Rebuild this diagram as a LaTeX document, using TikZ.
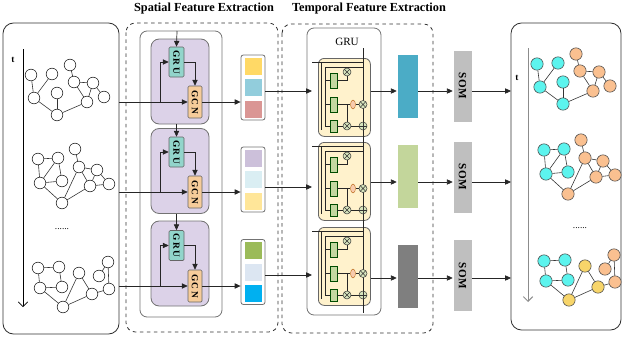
\documentclass[tikz,border=0pt]{standalone}
\usepackage{fontspec}
\setmainfont{Liberation Serif}
\usetikzlibrary{arrows.meta,shapes.geometric}
\definecolor{cyanN}{HTML}{5CF4EE}
\definecolor{orgN}{HTML}{FAC090}
\definecolor{yelN}{HTML}{F7D56A}
\definecolor{purp}{HTML}{DCD2E8}
\definecolor{gruC}{HTML}{92D5CB}
\definecolor{gcnC}{HTML}{F6CC9A}
\definecolor{cellC}{HTML}{FFF2CC}
\definecolor{gboxC}{HTML}{C4D7A0}
\definecolor{gateC}{HTML}{D7E4BD}
\definecolor{ovalC}{HTML}{F8CBAD}
\definecolor{somC}{HTML}{BFBFBF}
\definecolor{barA}{HTML}{4BACC6}
\definecolor{barB}{HTML}{C3D69B}
\definecolor{barC}{HTML}{7F7F7F}
\definecolor{vA}{HTML}{FFD966}
\definecolor{vB}{HTML}{92CDDC}
\definecolor{vC}{HTML}{DA9694}
\definecolor{vD}{HTML}{CCC0DA}
\definecolor{vE}{HTML}{DAEEF3}
\definecolor{vF}{HTML}{FFE699}
\definecolor{vG}{HTML}{9BBB59}
\definecolor{vH}{HTML}{DCE6F2}
\definecolor{vI}{HTML}{00B0F0}
\newcommand\px{0.03cm}
\tikzset{
 gn/.style={circle,draw=black!85,fill=white,line width=0.5pt,inner sep=0pt,minimum size=0.35cm},
 gnr/.style={gn,minimum size=0.37cm,draw=black!70},
 ge/.style={draw=black!80,line width=0.5pt},
 arr/.style={-{Triangle[length=5pt,width=4.5pt]},line width=0.6pt,draw=black!85},
 panel/.style={draw=black!80,rounded corners=9pt,line width=0.7pt},
 dpanel/.style={draw=black!80,dashed,rounded corners=8pt,line width=0.7pt},
 innerbox/.style={draw=black!55,rounded corners=6pt,line width=0.7pt},
 purpbox/.style={draw=black!55,fill=purp,rounded corners=7pt,line width=0.7pt,minimum width=58*\px,minimum height=85*\px,inner sep=0pt},
 grubox/.style={draw=black!60,fill=gruC,rounded corners=1pt,line width=0.5pt,minimum height=30*\px,minimum width=15*\px,inner sep=0pt,font=\bfseries\fontsize{8}{9}\selectfont},
 gcnbox/.style={draw=black!60,fill=gcnC,rounded corners=1pt,line width=0.5pt,minimum height=32*\px,minimum width=14*\px,inner sep=0pt,font=\bfseries\fontsize{8}{9}\selectfont},
 vecbox/.style={draw=black!55,fill=white,rounded corners=2pt,line width=0.7pt,minimum width=24*\px,minimum height=65*\px,inner sep=0pt},
 sq/.style={fill=#1,draw=white,line width=0.4pt,minimum width=18*\px,minimum height=18*\px,inner sep=0pt},
 cellbox/.style={draw=black!60,fill=cellC,rounded corners=5pt,line width=0.7pt,minimum width=52*\px,minimum height=78*\px,inner sep=0pt},
 cl/.style={draw=black!85,line width=0.4pt},
 gb/.style={draw=green!30!black,fill=gboxC,line width=0.4pt,minimum width=7*\px,inner sep=0pt},
 gate/.style={circle,draw=black!80,fill=gateC,line width=0.4pt,inner sep=0pt,minimum size=8*\px},
 otimes/.style={gate,path picture={\draw[black!80,line width=0.4pt] (path picture bounding box.north west) -- (path picture bounding box.south east) (path picture bounding box.north east) -- (path picture bounding box.south west);}},
 oplus/.style={gate,path picture={\draw[black!80,line width=0.4pt] (path picture bounding box.north) -- (path picture bounding box.south) (path picture bounding box.east) -- (path picture bounding box.west);}},
 ovalN/.style={ellipse,draw=orange!70!black,fill=ovalC,line width=0.3pt,inner sep=0pt,minimum width=5*\px,minimum height=9*\px},
 bar/.style={fill=#1,draw=white,line width=0.4pt,minimum width=21*\px,minimum height=64*\px,inner sep=0pt},
 som/.style={fill=somC,draw=white,minimum height=72*\px,minimum width=19*\px,inner sep=0pt,font=\bfseries\fontsize{9.5}{10}\selectfont},
 title/.style={font=\bfseries\fontsize{10.5}{12}\selectfont},
 tlabel/.style={font=\fontsize{8}{9}\selectfont\bfseries},
}
\newcommand\grucell[2]{%
 \node[cellbox,anchor=north west] (#1) at (318,#2) {};
 \begin{scope}[shift={(318,#2)}]
  \draw[cl] (-6,4) -- (45,4);
  \draw[cl] (3,4) -- (3,72);
  \draw[cl] (7,9) -- (45,9);
  \draw[cl] (7,9) -- (7,68);
  \draw[cl] (45,-8) -- (45,86);
  \node[gb,minimum height=15*\px] (#1b1) at (15.5,22.5) {};
  \node[gb,minimum height=15*\px] (#1b2) at (15.5,46.5) {};
  \node[gb,minimum height=12*\px] (#1b3) at (15.5,68) {};
  \draw[cl] (7,22.5) -- (#1b1.west);
  \draw[cl] (7,46.5) -- (#1b2.west);
  \draw[cl] (7,68) -- (#1b3.west);
  \node[otimes] (#1g1) at (29,14) {};
  \draw[cl] (#1b1.east) -| (#1g1.south);
  \draw[cl] (#1g1.north) -- (29,9);
  \node[ovalN] (#1o) at (35,46.5) {};
  \node[otimes] (#1g2) at (45,46.5) {};
  \node[otimes] (#1g3) at (29,68) {};
  \node[oplus] (#1g4) at (45,68) {};
  \draw[cl] (#1b2.east) -- (#1o) -- (#1g2);
  \draw[cl] (29,46.5) -- (#1g3.north);
  \draw[cl] (#1b3.east) -- (#1g3) -- (#1g4);
 \end{scope}}
\begin{document}
\begin{tikzpicture}[x=0.03cm,y=-0.03cm]
\useasboundingbox (0,0) rectangle (623,337);
% titles
\node[title] (t1) at (204,9) {Spatial Feature Extraction};
\node[title] (t2) at (369,9) {Temporal Feature Extraction};
% panels
\draw[panel] (3,23) rectangle (119,334);
\draw[dpanel] (126,23) rectangle (278,332);
\draw[dpanel] (282,24) rectangle (433,333);
\draw[panel] (511,23) rectangle (621,330);
% time arrows
\node[tlabel] (tl) at (13,60) {t};
\coordinate (ta1) at (23,49); \coordinate (ta2) at (23,307);
\draw[-{Straight Barb[length=4pt]},line width=0.6pt] (ta1) -- (ta2);
\node[tlabel] (tr) at (517,78) {t};
\coordinate (tb1) at (528,48); \coordinate (tb2) at (528,302);
\draw[-{Straight Barb[length=4pt]},line width=0.8pt,draw=black!45] (tb1) -- (tb2);
% left graphs
\foreach \n/\x/\y in {1/31/75,2/52/74,3/70/65,4/74/82,5/93/83,6/57/93,7/34/98,8/104/97,9/87/102,10/57/115}
  \node[gn] (La\n) at (\x,\y) {};
\foreach \a/\b in {1/7,2/7,6/10,7/10,10/9,3/4,4/5,4/9,5/9,5/8}
  \draw[ge] (La\a) -- (La\b);
\foreach \n/\x/\y in {1/38/159,2/58/158,3/75/149,4/79/167,5/97/170,6/62/181,7/40/183,8/90/186,9/109/184,10/62/203}
  \node[gn] (Lb\n) at (\x,\y) {};
\foreach \a/\b in {1/2,1/7,2/7,2/6,7/6,7/10,10/4,10/8,3/4,4/5,4/8,5/8,8/9,5/9}
  \draw[ge] (Lb\a) -- (Lb\b);
\foreach \n/\x/\y in {1/38/268,2/59/267,3/79/273,4/108/262,5/99/276,6/40/288,7/62/287,8/92/294,9/109/289,10/63/307}
  \node[gn] (Lc\n) at (\x,\y) {};
\foreach \a/\b in {1/2,1/6,2/7,6/7,6/10,10/3,3/8,10/8,8/9,5/4,4/9}
  \draw[ge] (Lc\a) -- (Lc\b);
\node[font=\fontsize{8}{9}\selectfont] (ld) at (62,229) {......};
% right graphs
\foreach \n/\x/\y/\c in {1/31/75/cyanN,2/52/74/cyanN,3/70/65/orgN,4/74/82/orgN,5/93/83/orgN,6/57/93/cyanN,7/34/98/cyanN,8/104/97/orgN,9/87/102/orgN,10/57/115/cyanN}
  \node[gnr,fill=\c] (Ra\n) at (\x+506,\y-11) {};
\foreach \a/\b in {1/7,2/7,6/10,7/10,10/9,3/4,4/5,4/9,5/9,5/8}
  \draw[ge] (Ra\a) -- (Ra\b);
\foreach \n/\x/\y/\c in {1/38/159/cyanN,2/58/158/cyanN,3/75/149/orgN,4/79/167/orgN,5/97/170/orgN,6/62/181/cyanN,7/40/183/cyanN,8/90/186/orgN,9/109/184/orgN,10/62/203/orgN}
  \node[gnr,fill=\c] (Rb\n) at (\x+506,\y-9) {};
\foreach \a/\b in {1/2,1/7,2/7,2/6,7/6,7/10,10/4,10/8,3/4,4/5,4/8,5/8,8/9,5/9}
  \draw[ge] (Rb\a) -- (Rb\b);
\foreach \n/\x/\y/\c in {1/38/268/cyanN,2/59/267/cyanN,3/79/273/yelN,4/108/262/orgN,5/99/276/orgN,6/40/288/cyanN,7/62/287/cyanN,8/92/294/yelN,9/109/289/orgN,10/63/307/yelN}
  \node[gnr,fill=\c] (Rc\n) at (\x+506,\y-7) {};
\foreach \a/\b in {1/2,1/6,2/7,6/7,6/10,10/3,3/8,10/8,8/9,5/4,4/9}
  \draw[ge] (Rc\a) -- (Rc\b);
\node[font=\fontsize{8}{9}\selectfont] (rd) at (580,228) {......};
% spatial section
\draw[innerbox] (140,31) rectangle (222,317);
\coordinate (top) at (177,31);
\node[purpbox] (p1) at (180,81.5) {};
\node[purpbox] (p2) at (180,171) {};
\node[purpbox] (p3) at (180,263.5) {};
\node[grubox] (r1) at (176.5,62) {\rotatebox{-90}{G\,R\,U}};
\node[grubox] (r2) at (176.5,152) {\rotatebox{-90}{G\,R\,U}};
\node[grubox] (r3) at (176.5,245.5) {\rotatebox{-90}{G\,R\,U}};
\node[gcnbox] (n1) at (195,102) {\rotatebox{-90}{G\,C\,N}};
\node[gcnbox] (n2) at (195,192) {\rotatebox{-90}{G\,C\,N}};
\node[gcnbox] (n3) at (195,286) {\rotatebox{-90}{G\,C\,N}};
\draw[arr] (top) -- (r1.north);
\draw[arr] (p1.south -| r1) -- (r2.north);
\draw[arr] (p2.south -| r2) -- (r3.north);
% vector boxes
\node[vecbox] (v1) at (253,87.5) {};
\node[vecbox] (v2) at (253,179.5) {};
\node[vecbox] (v3) at (253,272) {};
\foreach \i/\a/\b/\c/\y in {1/vA/vB/vC/87.5,2/vD/vE/vF/179.5,3/vG/vH/vI/272}{
  \node[sq=\a] (v\i a) at (253,\y-21.5) {};
  \node[sq=\b] (v\i b) at (253,\y) {};
  \node[sq=\c] (v\i c) at (253,\y+21.5) {};
}
% inputs to GCN/GRU
\foreach \i/\y in {1/102,2/192,3/286}{
  \coordinate (in\i) at (119,\y);
  \coordinate (br\i) at (160,\y);
  \draw[arr] (in\i) -- (n\i.west);
  \draw[arr] (br\i) |- (r\i.west);
  \draw[arr] (r\i.east) -| (n\i.north);
  \draw[arr] (n\i.east) -- (v\i.west |- n\i.east);
}
% temporal section
\draw[innerbox] (307,28) rectangle (381,315);
\node[font=\fontsize{9.5}{11}\selectfont] (glab) at (347,42) {GRU};
\draw[cl] (363,48) -- (363,312);
\grucell{c1}{58}
\grucell{c2}{142}
\grucell{c3}{227}
% temporal bars
\node[bar=barA] (b1) at (407.5,86) {};
\node[bar=barB] (b2) at (407.5,176.5) {};
\node[bar=barC] (b3) at (407.5,276) {};
% SOM
\node[som] (s1) at (462.5,86) {\rotatebox{-90}{S\kern0.6pt O\kern0.6pt M}};
\node[som] (s2) at (462.5,177) {\rotatebox{-90}{S\kern0.6pt O\kern0.6pt M}};
\node[som] (s3) at (462.5,275.5) {\rotatebox{-90}{S\kern0.6pt O\kern0.6pt M}};
% row connectors
\foreach \i/\yin/\yout in {1/91/91,2/187/182,3/275/278}{
  \coordinate (gi\i) at (312,\yin);
  \coordinate (rp\i) at (511,\yout);
  \draw[arr] (v\i.east |- gi\i) -- (gi\i);
  \draw[arr] (c\i.east |- rp\i) -- (b\i.west |- rp\i);
  \draw[arr] (b\i.east |- rp\i) -- (s\i.west |- rp\i);
  \draw[arr] (s\i.east |- rp\i) -- (rp\i);
}
\end{tikzpicture}
\end{document}
